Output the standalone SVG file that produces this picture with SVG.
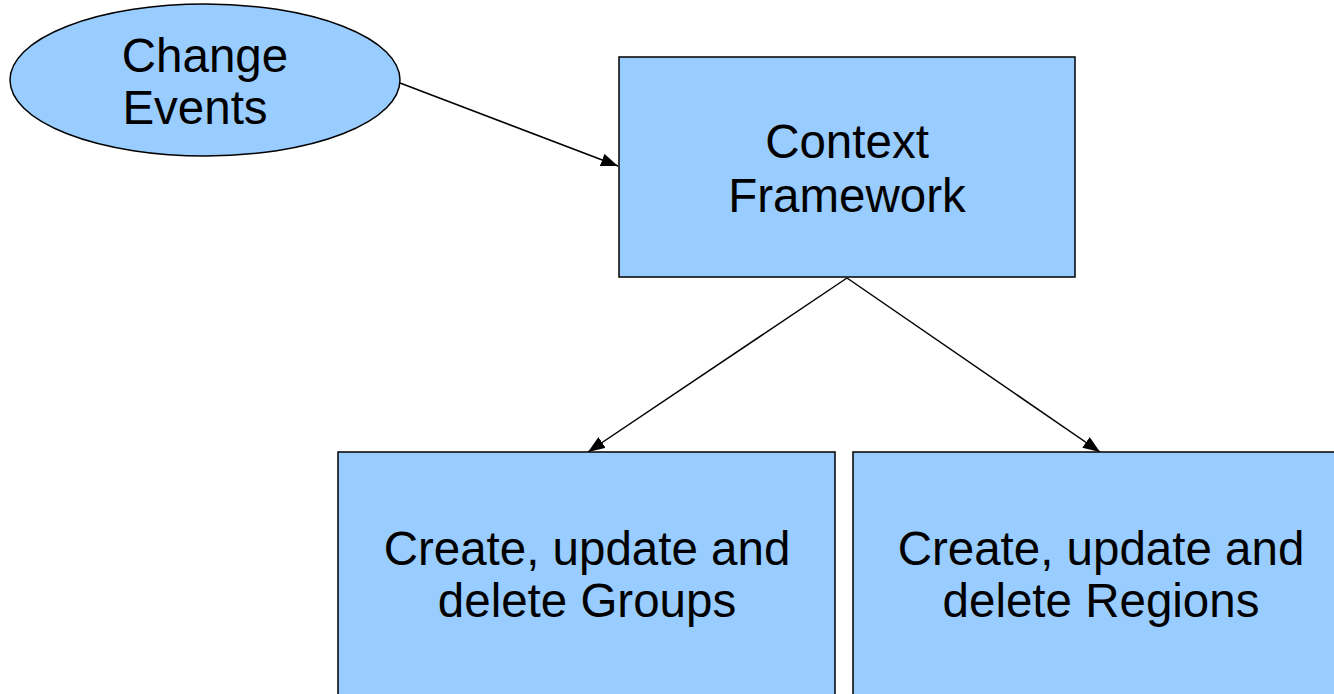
<svg xmlns="http://www.w3.org/2000/svg" width="1334" height="694" viewBox="0 0 1334 694">
  <style>
    .shape { fill: #99ccff; stroke: #000000; stroke-width: 1.5; }
    .label { font-family: "Liberation Sans", Arial, sans-serif; font-size: 47.5px; fill: #000000; text-anchor: middle; }
    .conn { stroke: #000000; stroke-width: 1.5; fill: none; marker-end: url(#arrow); }
  </style>
  <defs>
    <marker id="arrow" viewBox="0 0 17 13" refX="17" refY="6.5" markerWidth="17" markerHeight="13" markerUnits="userSpaceOnUse" orient="auto">
      <path d="M0,0 L17,6.5 L0,13 Z" fill="#000000"/>
    </marker>
  </defs>
  <rect width="1334" height="694" fill="#ffffff"/>
  <g id="connectors">
    <line class="conn" x1="400" y1="83" x2="618" y2="166"/>
    <line class="conn" x1="847" y1="278" x2="588" y2="452"/>
    <line class="conn" x1="847" y1="278" x2="1100" y2="452"/>
  </g>
  <g id="change-events">
    <ellipse class="shape" cx="205" cy="80" rx="195" ry="76"/>
    <text class="label" x="205" y="72">Change</text>
    <text class="label" x="195" y="124">Events</text>
  </g>
  <g id="context-framework">
    <rect class="shape" x="619" y="57" width="456" height="220"/>
    <text class="label" x="847" y="158">Context</text>
    <text class="label" x="847" y="212">Framework</text>
  </g>
  <g id="groups">
    <rect class="shape" x="338" y="452" width="497" height="260"/>
    <text class="label" x="587" y="565">Create, update and</text>
    <text class="label" x="587" y="617">delete Groups</text>
  </g>
  <g id="regions">
    <rect class="shape" x="853" y="452" width="497" height="260"/>
    <text class="label" x="1101" y="565">Create, update and</text>
    <text class="label" x="1101" y="617">delete Regions</text>
  </g>
</svg>
